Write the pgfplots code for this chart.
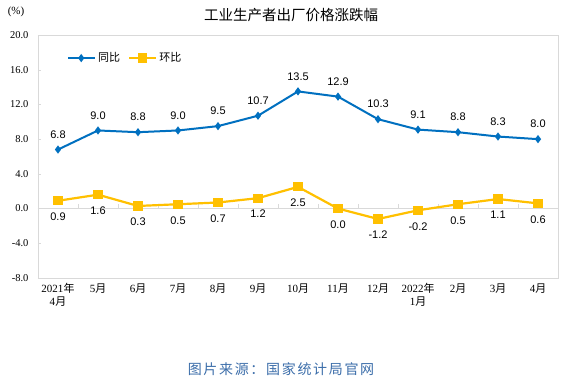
\documentclass[border=0pt]{standalone}
\usepackage{fontspec}
\setmainfont{Liberation Serif}
\newfontfamily\cjk{Noto Sans CJK SC}
\newfontfamily\cjkfoot[LetterSpace=12]{Noto Sans CJK SC}
\newfontfamily\sanf{Liberation Sans}
\usepackage{pgfplots}
\pgfplotsset{compat=1.18}
\definecolor{tbblue}{RGB}{0,112,192}
\definecolor{tbyellow}{RGB}{255,192,0}
\definecolor{framegray}{RGB}{217,217,217}
\definecolor{footblue}{RGB}{60,110,170}
\begin{document}
\begin{tikzpicture}[x=1pt,y=1pt]
\fill[white] (0,0) rectangle (565,386);
\useasboundingbox (0,0) rectangle (565,386);
\begin{axis}[
  at={(38pt,108pt)}, anchor=south west,
  scale only axis, width=520pt, height=243pt,
  xmin=-0.5, xmax=12.5, ymin=-8, ymax=20,
  ytick={-8,-4,0,4,8,12,16,20},
  xtick={0,...,12},
  xticklabels={{2021{\cjk 年}\\4{\cjk 月}},5{\cjk 月},6{\cjk 月},7{\cjk 月},8{\cjk 月},9{\cjk 月},10{\cjk 月},11{\cjk 月},12{\cjk 月},{2022{\cjk 年}\\1{\cjk 月}},2{\cjk 月},3{\cjk 月},4{\cjk 月}},
  xticklabel style={align=center, font=\fontsize{11}{12.5}\selectfont, yshift=-2pt},
  yticklabel style={font=\fontsize{10.5}{12}\selectfont, xshift=-6pt},
  /pgf/number format/assume math mode=true,
  yticklabel={\pgfmathprintnumber[fixed,fixed zerofill,precision=1]{\tick}},
  axis line style={framegray},
  every tick/.style={framegray},
  x tick style={draw=none},
  major tick length=3pt,
  tick align=inside,
  ytick pos=left,
  legend style={at={(0.05,0.905)}, anchor=west, draw=none, fill=none,
    font=\cjk\fontsize{11}{12}\selectfont, legend columns=2,
    /tikz/every even column/.append style={column sep=6pt}},
  legend image code/.code={\draw[mark repeat=2,mark phase=2] plot coordinates {(0pt,0pt)(13pt,0pt)(27pt,0pt)};},
  clip=false,
]
\draw[framegray] (axis cs:-0.5,0) -- (axis cs:12.5,0);
\pgfplotsinvokeforeach{0.5,1.5,2.5,3.5,4.5,5.5,6.5,7.5,8.5,9.5,10.5,11.5}{
  \draw[framegray] (axis cs:#1,0) -- ([yshift=5pt]axis cs:#1,0);
}
\addplot[color=tbblue, line width=2pt, mark=diamond*, mark size=2.5pt,
  nodes near coords, point meta=explicit symbolic,
  every node near coord/.append style={anchor=center, yshift=15pt, text=black, font=\sanf\fontsize{11}{12}\selectfont}]
  table[meta=l] {
x y l
0 6.8 6.8
1 9.0 9.0
2 8.8 8.8
3 9.0 9.0
4 9.5 9.5
5 10.7 10.7
6 13.5 13.5
7 12.9 12.9
8 10.3 10.3
9 9.1 9.1
10 8.8 8.8
11 8.3 8.3
12 8.0 8.0
};
\addlegendentry{同比}
\addplot[color=tbyellow, line width=2.2pt, mark=square*, mark size=3.5pt,
  nodes near coords, point meta=explicit symbolic,
  every node near coord/.append style={anchor=center, yshift=-16pt, text=black, font=\sanf\fontsize{11}{12}\selectfont}]
  table[meta=l] {
x y l
0 0.9 0.9
1 1.6 1.6
2 0.3 0.3
3 0.5 0.5
4 0.7 0.7
5 1.2 1.2
6 2.5 2.5
7 0.0 0.0
8 -1.2 -1.2
9 -0.2 -0.2
10 0.5 0.5
11 1.1 1.1
12 0.6 0.6
};
\addlegendentry{环比}
\end{axis}
\node[font=\fontsize{11}{12}\selectfont] at (16,374) {(\%)};
\node[font=\cjk\fontsize{14.5}{16}\selectfont] at (291,371) {工业生产者出厂价格涨跌幅};
\node[font=\cjkfoot\fontsize{14}{16}\selectfont, text=footblue] at (281,17) {图片来源：国家统计局官网};
\end{tikzpicture}
\end{document}
